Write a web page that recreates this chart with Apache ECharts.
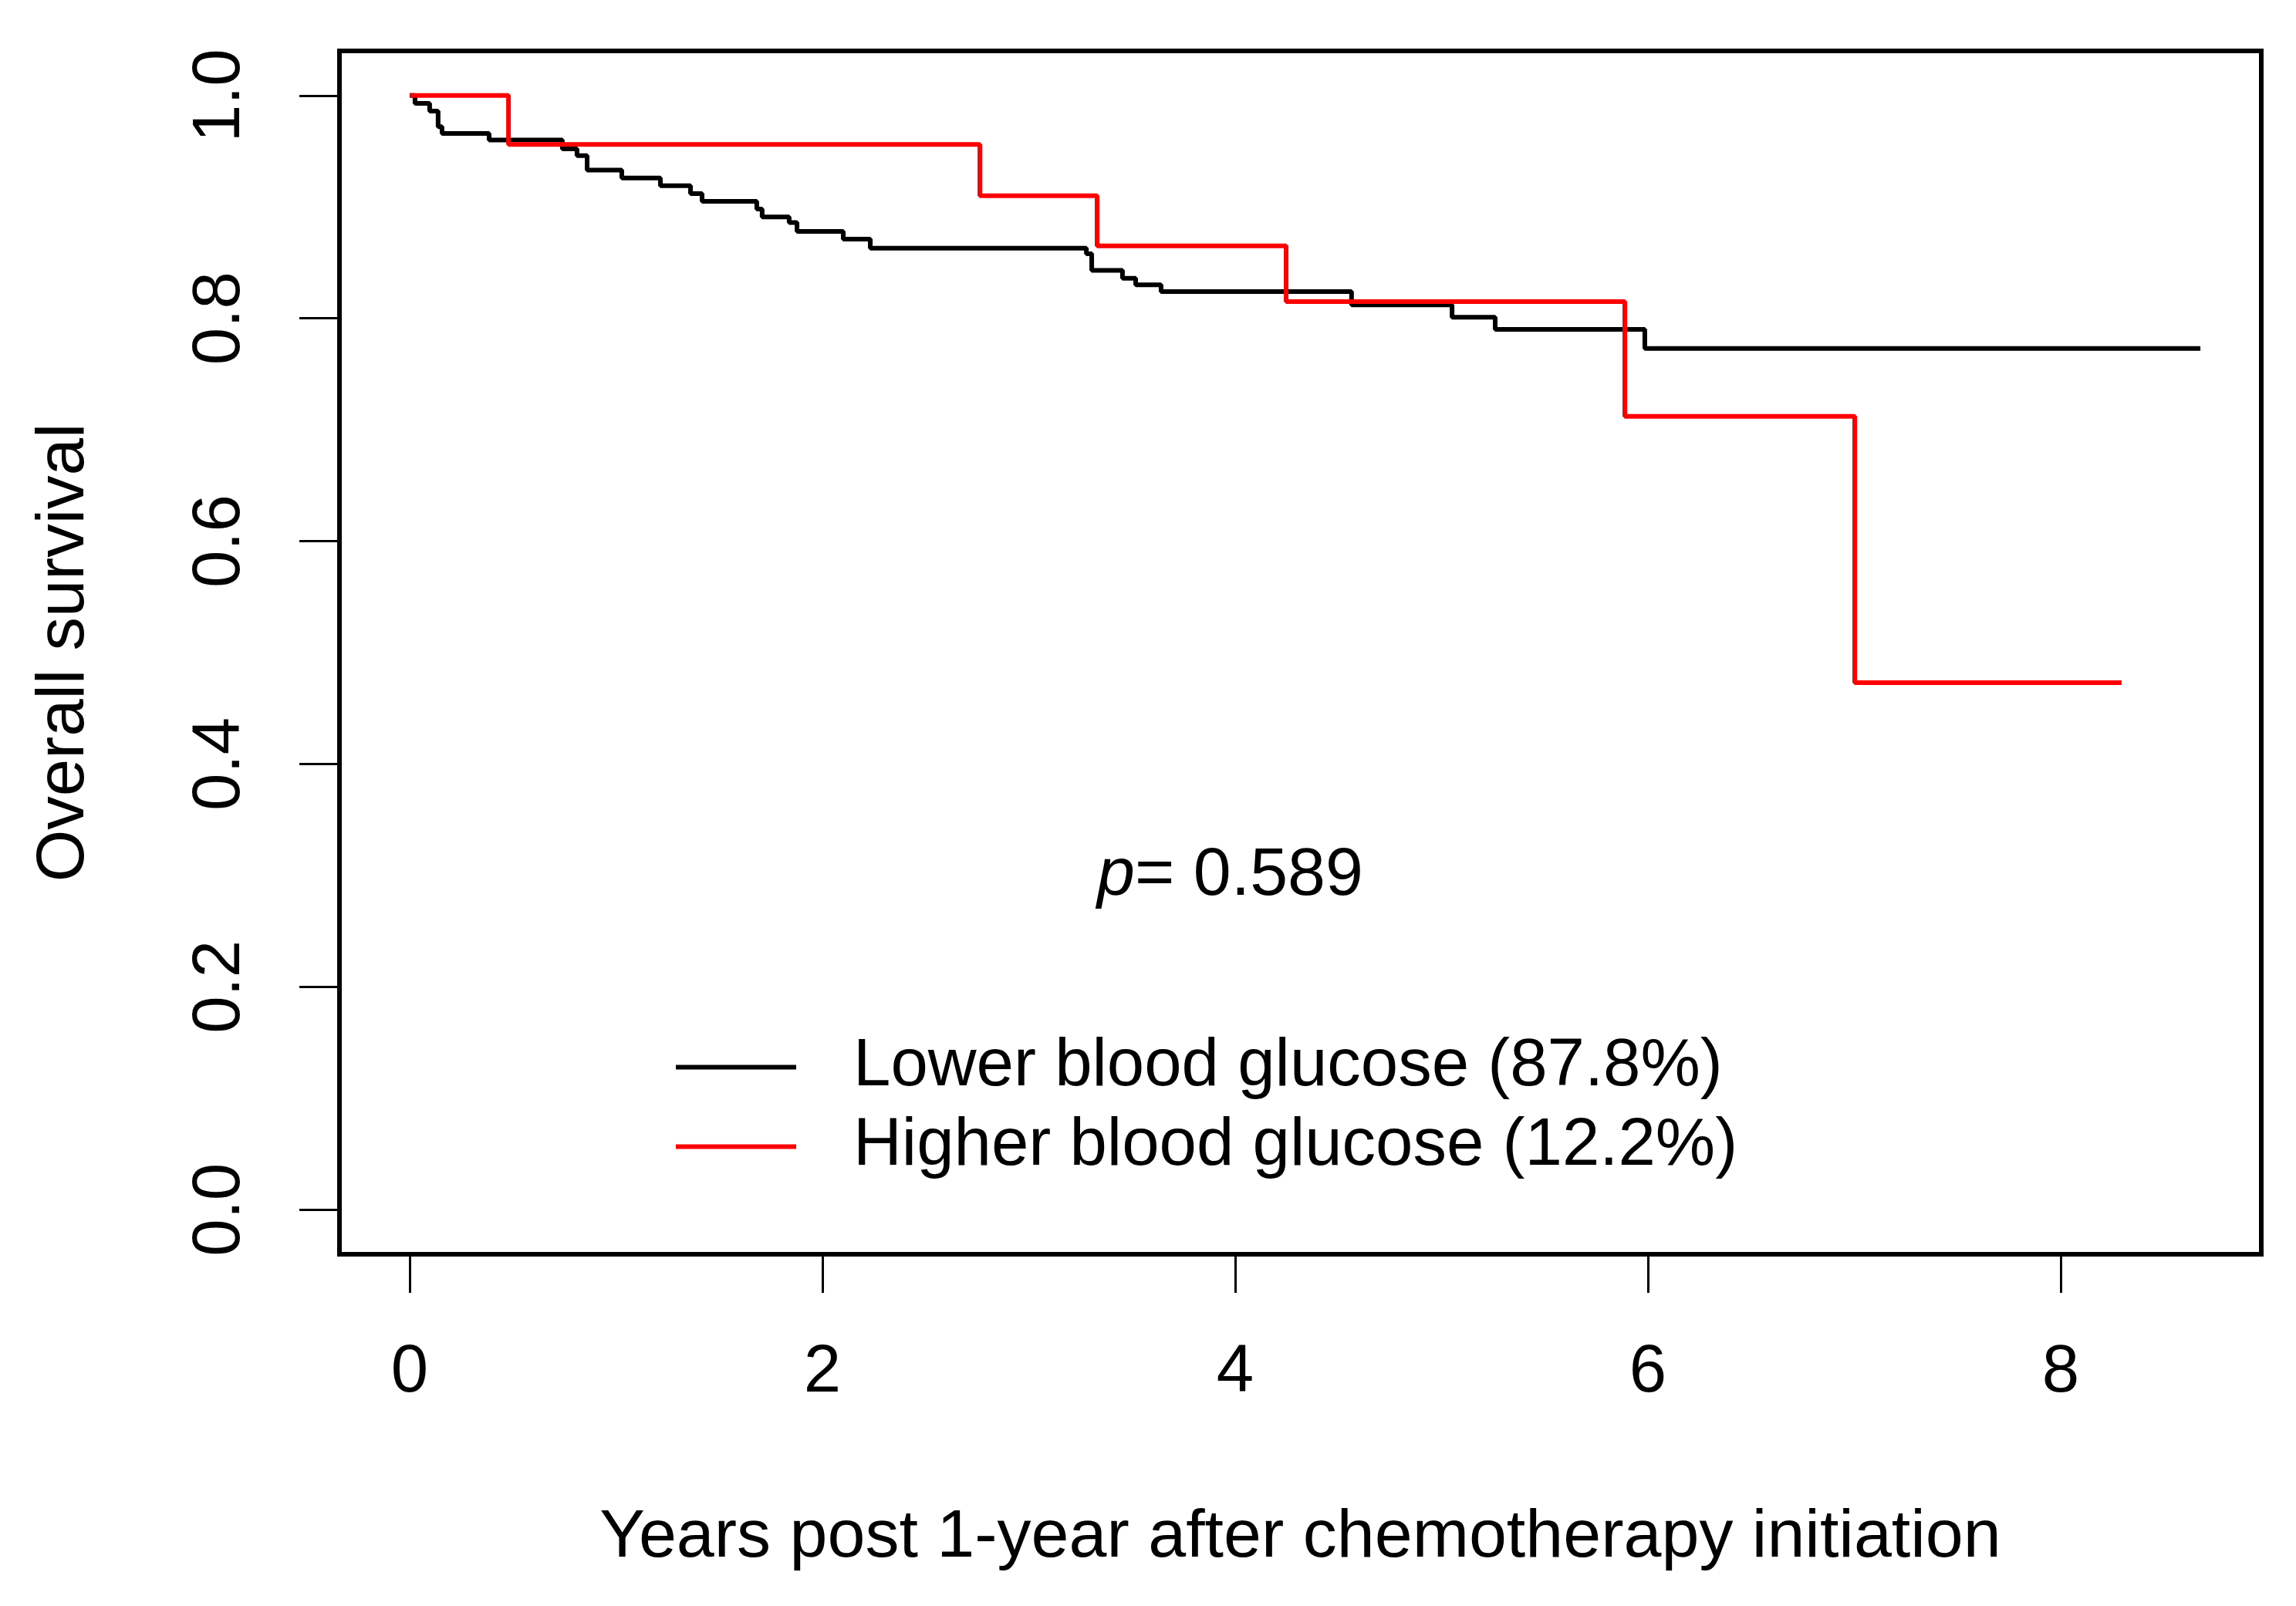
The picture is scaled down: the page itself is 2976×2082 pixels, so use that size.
<!DOCTYPE html>
<html>
<head>
<meta charset="utf-8">
<script src="https://cdn.jsdelivr.net/npm/echarts@6/dist/echarts.min.js"></script>
<style>
html,body{margin:0;padding:0;background:#fff;}
#chart{width:2976px;height:2082px;}
</style>
</head>
<body>
<div id="chart"></div>
<script>
// Kaplan-Meier step data
const lowerTimes = [0, 0.026, 0.097, 0.138, 0.157, 0.385, 0.740, 0.811, 0.860, 1.028, 1.215, 1.361, 1.417, 1.682, 1.708, 1.839, 1.877, 2.101, 2.232, 3.279, 3.305, 3.454, 3.518, 3.641, 4.564, 5.051, 5.260, 5.985, 8.677];
const lowerSurv  = [1.0, 0.993, 0.986, 0.972, 0.966, 0.960, 0.952, 0.946, 0.933, 0.926, 0.919, 0.912, 0.905, 0.898, 0.891, 0.886, 0.878, 0.871, 0.863, 0.858, 0.843, 0.836, 0.830, 0.824, 0.812, 0.801, 0.790, 0.773, 0.773];
const higherTimes = [0, 0.479, 2.763, 3.331, 4.247, 5.888, 7.002, 8.295];
const higherSurv  = [1.0, 0.956, 0.910, 0.865, 0.815, 0.712, 0.473, 0.473];
const xTicks = [0, 2, 4, 6, 8];
const yTicks = [0, 0.2, 0.4, 0.6, 0.8, 1.0];
const seriesNames = ['Lower blood glucose (87.8%)', 'Higher blood glucose (12.2%)'];
const pText = '0.589';

const FONT = "'Liberation Sans', Arial, sans-serif";
const FS = 87;

function pairs(ts, ss){ return ts.map((t,i)=>[t, ss[i]]); }

const chart = echarts.init(document.getElementById('chart'), null, {renderer:'canvas'});
chart.setOption({
  animation: false,
  backgroundColor: '#fff',
  textStyle: {fontFamily: FONT, color: '#000'},
  grid: {left: 440, right: 45, top: 66, bottom: 456, show: true, borderColor: '#000', borderWidth: 6, backgroundColor: 'transparent', containLabel: false},
  xAxis: {
    type: 'value', min: -0.34, max: 8.972,
    name: 'Years post 1-year after chemotherapy initiation',
    nameLocation: 'middle', nameGap: 324,
    nameTextStyle: {fontFamily: FONT, fontSize: 88, color: '#000', lineHeight: 88},
    axisLine: {show: false, onZero: false},
    axisTick: {show: true, inside: false, length: 50, lineStyle: {color: '#000', width: 3}, customValues: xTicks},
    axisLabel: {show: true, margin: 111, fontFamily: FONT, fontSize: FS, color: '#000', lineHeight: FS, customValues: xTicks, formatter: v => String(v)},
    splitLine: {show: false}
  },
  yAxis: {
    type: 'value', min: -0.04, max: 1.04,
    name: 'Overall survival',
    nameLocation: 'middle', nameGap: 312, nameRotate: 90,
    nameTextStyle: {fontFamily: FONT, fontSize: FS, color: '#000', lineHeight: FS},
    axisLine: {show: false, onZero: false},
    axisTick: {show: true, inside: false, length: 52, lineStyle: {color: '#000', width: 3}, customValues: yTicks},
    axisLabel: {show: true, rotate: 90, margin: 110, fontFamily: FONT, fontSize: FS, color: '#000', lineHeight: FS, customValues: yTicks, formatter: v => v.toFixed(1)},
    splitLine: {show: false}
  },
  legend: {
    show: true, orient: 'vertical', left: 876, top: 1340,
    itemWidth: 156, itemHeight: 6, itemGap: 16, icon: 'rect',
    padding: 0,
    textStyle: {fontFamily: FONT, fontSize: FS, color: '#000', lineHeight: FS, padding: [0, 0, 0, 69]},
    data: seriesNames
  },
  graphic: [{
    type: 'text', left: 1422, top: 1092, silent: true,
    style: {
      text: '{i|p}= ' + pText,
      font: '88px ' + FONT,
      fill: '#000',
      rich: {i: {fontStyle: 'italic', fontSize: 88, fontFamily: FONT, fill: '#000'}}
    }
  }],
  series: [
    {name: seriesNames[0], type: 'line', step: 'end', showSymbol: false, symbol: 'none', color: '#000',
     lineStyle: {color: '#000', width: 6}, data: pairs(lowerTimes, lowerSurv), z: 3},
    {name: seriesNames[1], type: 'line', step: 'end', showSymbol: false, symbol: 'none', color: '#ff0000',
     lineStyle: {color: '#ff0000', width: 6}, data: pairs(higherTimes, higherSurv), z: 4}
  ]
});
</script>
</body>
</html>
